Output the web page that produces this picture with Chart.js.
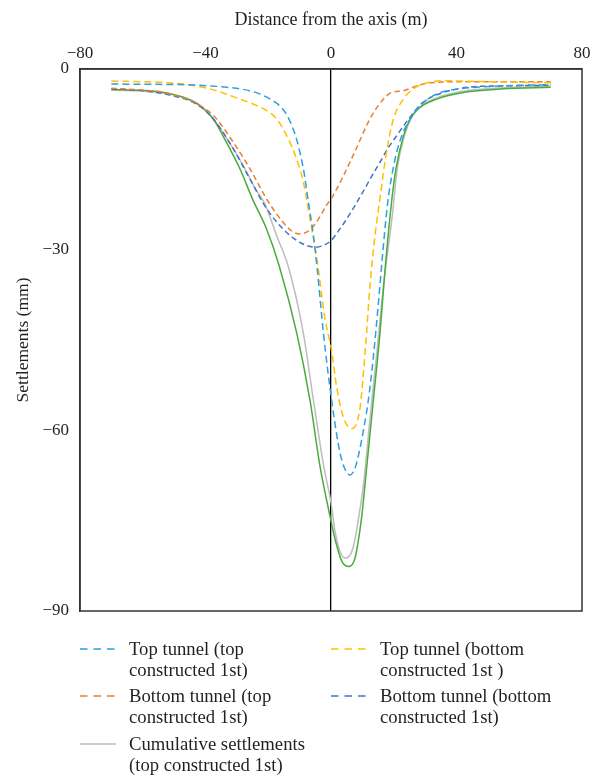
<!DOCTYPE html>
<html>
<head>
<meta charset="utf-8">
<script src="https://cdn.jsdelivr.net/npm/chart.js@4/dist/chart.umd.min.js"></script>
<style>
  html, body { margin: 0; padding: 0; background: #fff; }
  #wrap { position: relative; width: 592px; height: 779px; overflow: hidden; }
  #plot { position: absolute; left: 0; top: 0; width: 592px; height: 625px; }
  #legend { position: absolute; left: 0; top: 0; width: 592px; height: 779px; pointer-events: none; }
  .item { position: absolute; font-family: 'Liberation Serif', 'DejaVu Serif', serif; font-size: 18.7px; line-height: 21.5px; color: #231f20; white-space: nowrap; }
  .item svg { position: absolute; left: 0; top: 9px; }
  .item .txt { position: absolute; }
</style>
</head>
<body>
<div id="wrap">
  <div id="plot"><canvas id="chart"></canvas></div>
  <div id="legend"></div>
</div>
<script>
// Distance from the tunnel axis (m) and surface settlement (mm) for each case
const xTopTunnelTopFirst = [-70, -55, -42, -32, -26, -22, -18.4, -16, -14, -12.5, -11, -8.8, -7.2, -5.6, -4.4, -2.4, 0.2, 2.9, 4.5, 6, 7.5, 8.9, 10.5, 11.9, 13.5, 15, 16.5, 18, 20, 22, 25.2, 28.4, 33.7, 41, 55, 70];
const yTopTunnelTopFirst = [-2.5, -2.55, -2.7, -3.1, -3.6, -4.3, -5.3, -6.3, -7.7, -9.4, -11.6, -16.6, -22.1, -27.7, -33.2, -43.9, -55, -63.8, -66.5, -67.4, -66.5, -63.8, -59.5, -55, -47.8, -39.5, -30.5, -22.5, -16, -11.9, -8.3, -6.1, -4.15, -3.3, -2.8, -2.6];

const xTopTunnelBottomFirst = [-70, -55, -47, -38.6, -29, -24, -20.5, -17.3, -14.1, -11, -8.8, -6.7, -4.5, -2, 0.2, 1.8, 3.9, 5.5, 6.8, 8, 9.3, 10.9, 12.5, 14.1, 15.6, 17.7, 19.9, 23.1, 26.2, 30.5, 35, 45, 70];
const yTopTunnelBottomFirst = [-2.0, -2.2, -2.5, -3.3, -5.0, -6.0, -6.9, -8.3, -11.1, -14.9, -18.8, -24.9, -31.5, -41.2, -46.8, -52.8, -57.8, -59.4, -59.7, -59.0, -56.1, -46.8, -35.6, -27.3, -21.5, -13.8, -8.3, -5.0, -3.3, -2.3, -1.95, -2.05, -2.3];

const xBottomTunnelTopFirst = [-70, -60, -52.4, -43.9, -37.5, -31.1, -25.8, -20.5, -15.2, -12.5, -9.9, -7.5, -5.6, -3.5, -1.4, 0, 3.9, 7.8, 12.4, 16.2, 19.3, 23.1, 27.3, 31.5, 44.3, 70];
const yBottomTunnelTopFirst = [-3.2, -3.5, -4.0, -5.5, -7.7, -12.2, -16.6, -21.6, -25.5, -26.9, -27.4, -27.0, -26.1, -24.5, -22.6, -21.6, -17.8, -13.5, -8.3, -5.3, -3.9, -3.6, -2.8, -2.3, -2.1, -2.1];

const xBottomTunnelBottomFirst = [-70, -60, -50, -43, -37.5, -31.1, -25.8, -20.5, -15.2, -9.9, -5, -2.5, 0, 2.5, 5, 7.5, 10.3, 13, 15.6, 18, 20.9, 25.2, 29.4, 35.8, 44.3, 55, 70];
const yBottomTunnelBottomFirst = [-3.3, -3.6, -4.5, -5.8, -8.3, -13.3, -18.3, -23.2, -26.6, -28.8, -29.6, -29.3, -28.5, -26.8, -24.9, -22.8, -20.3, -17.8, -15.5, -13.3, -11.1, -8.0, -5.5, -3.9, -3.0, -2.8, -2.7];

const xCumulativeTopFirst = [-70, -57, -47, -42, -37.5, -33, -28, -24, -21, -17.3, -13.5, -8.8, -5.6, -2.3, 0, 1.2, 2.8, 4.5, 6.3, 7.5, 8.5, 10.4, 12.5, 14.7, 16.8, 19.5, 21.1, 23.4, 25.5, 28, 33.7, 42, 55, 70];
const yCumulativeTopFirst = [-3.5, -3.8, -4.7, -5.9, -8.3, -11.7, -16.0, -20.0, -22.5, -27.7, -33.0, -43.9, -55, -66, -72, -76.5, -80, -81.2, -80.5, -78.5, -75.5, -68.8, -57.7, -46.6, -35.6, -24.5, -16.6, -11.1, -8.3, -6.5, -4.8, -3.7, -3.1, -2.9];

const xCumulativeBottomFirst = [-70, -57.7, -47.1, -41.8, -37.5, -33.3, -29, -25, -20.5, -16.5, -10.9, -6.7, -3.5, -0.3, 1.5, 3.5, 5.8, 7.5, 8.5, 9.8, 11.4, 13.5, 15.6, 17.2, 19.3, 20.7, 23.1, 25.2, 27.8, 33.7, 42.2, 54.9, 70];
const yCumulativeBottomFirst = [-3.4, -3.6, -4.7, -6.1, -8.3, -12.2, -16.6, -21.6, -26.6, -32.7, -43.9, -55, -66, -74.3, -78.5, -81.8, -82.6, -81.5, -79, -74.3, -66, -55, -43.9, -33.5, -22.1, -16.6, -11.1, -8.3, -6.6, -5.0, -3.9, -3.3, -3.05];

// Axis ticks
const xTicks = [-80, -40, 0, 40, 80];
const yTicks = [0, -30, -60, -90];

// Legend text, split over two lines per entry
const labelTopTunnelTopFirst = ['Top tunnel (top', 'constructed 1st)'];
const labelTopTunnelBottomFirst = ['Top tunnel (bottom', 'constructed 1st )'];
const labelBottomTunnelTopFirst = ['Bottom tunnel (top', 'constructed 1st)'];
const labelBottomTunnelBottomFirst = ['Bottom tunnel (bottom', 'constructed 1st)'];
const labelCumulativeTopFirst = ['Cumulative settlements', '(top constructed 1st)'];
const labelCumulativeBottomFirst = ['Cumulative settlements', '(bottom constructed 1st)'];

const FONT = "'Liberation Serif', 'DejaVu Serif', serif";
const TEXT = '#231f20';

function pts(xs, ys) { return xs.map((x, i) => ({ x: x, y: ys[i] })); }
function minus(v) { return v < 0 ? '\u2212' + Math.abs(v) : String(v); }

function series(lines, xs, ys, color, dash, inLegend, order) {
  return {
    label: lines.join(' '),
    legendLines: lines,
    inLegend: inLegend,
    data: pts(xs, ys),
    borderColor: color,
    backgroundColor: color,
    borderWidth: 1.5,
    borderDash: dash,
    pointRadius: 0,
    showLine: true,
    fill: false,
    cubicInterpolationMode: 'monotone',
    order: order
  };
}

const datasets = [
  series(labelTopTunnelTopFirst, xTopTunnelTopFirst, yTopTunnelTopFirst, '#2e9fdf', [7, 4], true, 1),
  series(labelTopTunnelBottomFirst, xTopTunnelBottomFirst, yTopTunnelBottomFirst, '#ffc000', [7, 4], true, 2),
  series(labelBottomTunnelTopFirst, xBottomTunnelTopFirst, yBottomTunnelTopFirst, '#ed7d31', [5.5, 3.5], true, 3),
  series(labelBottomTunnelBottomFirst, xBottomTunnelBottomFirst, yBottomTunnelBottomFirst, '#4472c4', [5.5, 3.5], true, 4),
  series(labelCumulativeTopFirst, xCumulativeTopFirst, yCumulativeTopFirst, '#bdbdbd', [], true, 6),
  series(labelCumulativeBottomFirst, xCumulativeBottomFirst, yCumulativeBottomFirst, '#4aab3c', [], false, 5)
];

// Frame around the plotting area
const frame = {
  id: 'frame',
  afterDatasetsDraw(chart) {
    const a = chart.chartArea, ctx = chart.ctx;
    ctx.save();
    ctx.strokeStyle = '#333';
    ctx.lineWidth = 1.5;
    ctx.strokeRect(a.left, a.top, a.right - a.left, a.bottom - a.top);
    ctx.restore();
  }
};

// Two-column legend built from the datasets
const htmlLegend = {
  id: 'htmlLegend',
  afterUpdate(chart) {
    const box = document.getElementById('legend');
    box.innerHTML = '';
    const items = chart.data.datasets.filter(d => d.inLegend);
    const cols = [80, 331];
    const rows = [637.5, 684.5, 732.5];
    items.forEach((d, i) => {
      const el = document.createElement('div');
      el.className = 'item';
      el.style.left = cols[i % 2] + 'px';
      el.style.top = rows[Math.floor(i / 2)] + 'px';
      const svgNS = 'http://www.w3.org/2000/svg';
      const svg = document.createElementNS(svgNS, 'svg');
      svg.setAttribute('width', '36');
      svg.setAttribute('height', '4');
      const ln = document.createElementNS(svgNS, 'line');
      ln.setAttribute('x1', '0'); ln.setAttribute('x2', '36');
      ln.setAttribute('y1', '2'); ln.setAttribute('y2', '2');
      ln.setAttribute('stroke', d.borderColor);
      ln.setAttribute('stroke-width', '1.6');
      if (d.borderDash.length) ln.setAttribute('stroke-dasharray', '7.5,6');
      svg.appendChild(ln);
      el.appendChild(svg);
      const t = document.createElement('div');
      t.className = 'txt';
      t.style.left = '49px';
      t.innerHTML = d.legendLines.map(s => s.replace(/&/g, '&amp;').replace(/</g, '&lt;')).join('<br>');
      el.appendChild(t);
      box.appendChild(el);
    });
  }
};

function noOverhang(s) {
  s.paddingLeft = 0; s.paddingRight = 0; s.paddingTop = 0; s.paddingBottom = 0;
}

new Chart(document.getElementById('chart'), {
  type: 'scatter',
  data: { datasets: datasets },
  plugins: [frame, htmlLegend],
  options: {
    responsive: true,
    maintainAspectRatio: false,
    animation: false,
    devicePixelRatio: 1,
    layout: { padding: { left: 0, right: 10, top: 0, bottom: 14 } },
    plugins: { legend: { display: false }, tooltip: { enabled: false } },
    scales: {
      x: {
        type: 'linear',
        position: 'top',
        min: xTicks[0],
        max: xTicks[xTicks.length - 1],
        afterBuildTicks: s => { s.ticks = xTicks.map(v => ({ value: v })); },
        afterFit: s => { s.height = 69; noOverhang(s); },
        ticks: { callback: v => minus(v), font: { family: FONT, size: 17 }, color: TEXT, padding: 5, maxRotation: 0 },
        grid: {
          drawTicks: false,
          color: c => (c.tick && c.tick.value === 0 ? '#000' : 'rgba(0,0,0,0)'),
          lineWidth: 1.3
        },
        border: { display: true, color: '#333', width: 1.5 },
        title: { display: true, text: 'Distance from the axis (m)', font: { family: FONT, size: 18 }, color: TEXT, padding: { top: 9, bottom: 0 } }
      },
      y: {
        type: 'linear',
        min: yTicks[yTicks.length - 1],
        max: yTicks[0],
        afterBuildTicks: s => { s.ticks = yTicks.slice().reverse().map(v => ({ value: v })); },
        afterFit: s => { s.width = 80; noOverhang(s); },
        ticks: { callback: v => minus(v), font: { family: FONT, size: 17 }, color: TEXT, padding: 11 },
        grid: { display: false, drawTicks: false },
        border: { display: true, color: '#333', width: 1.5 },
        title: { display: true, text: 'Settlements (mm)', font: { family: FONT, size: 17.5 }, color: TEXT, padding: { top: 13, bottom: 0 } }
      }
    }
  }
});
</script>
</body>
</html>
